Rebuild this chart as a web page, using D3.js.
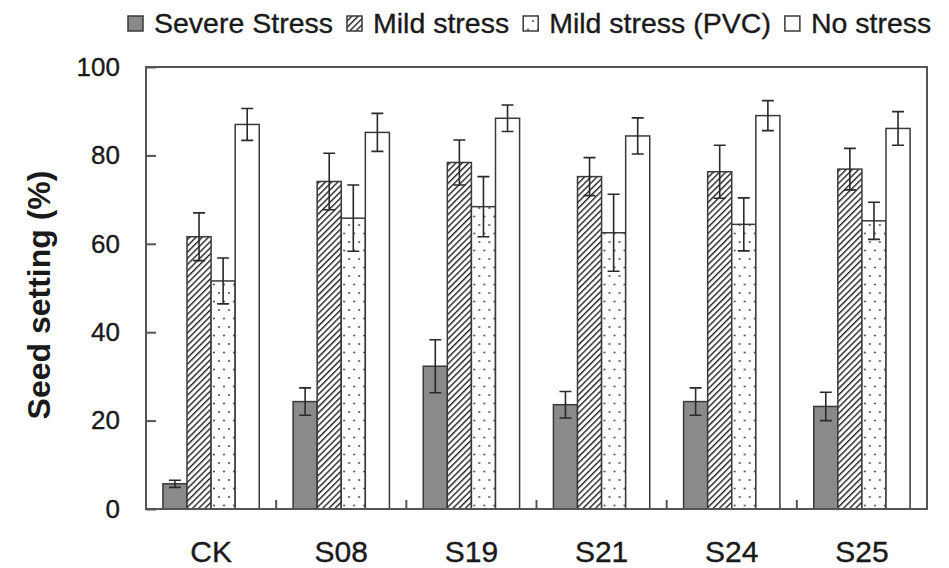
<!DOCTYPE html>
<html>
<head>
<meta charset="utf-8">
<script src="https://cdn.jsdelivr.net/npm/d3@7"></script>
<style>
  html, body { margin: 0; padding: 0; background: #fff; }
  svg { display: block; font-family: "Liberation Sans", Arial, sans-serif; }
</style>
</head>
<body>
<svg id="chart" width="949" height="568"></svg>
<script>
const categories = ["CK", "S08", "S19", "S21", "S24", "S25"];
const seriesNames = ["Severe Stress", "Mild stress", "Mild stress (PVC)", "No stress"];
const severe = [5.7, 24.3, 32.3, 23.6, 24.3, 23.2];
const severeErr = [0.8, 3.1, 6.0, 3.0, 3.1, 3.2];
const mild = [61.6, 74.1, 78.4, 75.2, 76.3, 76.9];
const mildErr = [5.4, 6.4, 5.1, 4.3, 6.0, 4.7];
const pvc = [51.6, 65.8, 68.4, 62.5, 64.4, 65.2];
const pvcErr = [5.2, 7.5, 6.8, 8.7, 6.0, 4.2];
const noStress = [87.0, 85.2, 88.4, 84.4, 89.0, 86.1];
const noStressErr = [3.6, 4.3, 3.0, 4.1, 3.4, 3.8];
const yTicks = [0, 20, 40, 60, 80, 100];
const yTitle = "Seed setting (%)";

const values = [severe, mild, pvc, noStress];
const errors = [severeErr, mildErr, pvcErr, noStressErr];

const svg = d3.select("#chart");
const L = 146, R = 927, T = 67, B = 509;
const textColor = "#1a1a1a";
const lineColor = "#3a3a3a";

const defs = svg.append("defs");
const hatch = defs.append("pattern").attr("id", "hatch")
  .attr("patternUnits", "userSpaceOnUse").attr("width", 4.4).attr("height", 4.4)
  .attr("patternTransform", "rotate(45)");
hatch.append("rect").attr("width", 4.4).attr("height", 4.4).attr("fill", "#fff");
hatch.append("line").attr("x1", 0.7).attr("y1", 0).attr("x2", 0.7).attr("y2", 4.4)
  .attr("stroke", "#222").attr("stroke-width", 1.4);

const dots = defs.append("pattern").attr("id", "dots")
  .attr("patternUnits", "userSpaceOnUse").attr("width", 10).attr("height", 17);
dots.append("rect").attr("width", 10).attr("height", 17).attr("fill", "#fff");
dots.append("circle").attr("cx", 3).attr("cy", 4).attr("r", 1.1).attr("fill", "#555");
dots.append("circle").attr("cx", 8).attr("cy", 12.5).attr("r", 1.1).attr("fill", "#555");

const fills = ["#8a8a8a", "url(#hatch)", "url(#dots)", "#ffffff"];

const x = d3.scaleBand().domain(categories).range([L, R]).padding(0);
const bw = x.bandwidth();
const xs = d3.scaleBand().domain(seriesNames).range([bw * 0.13, bw * 0.87]).padding(0);
const y = d3.scaleLinear().domain([0, 100]).range([B, T]);

// bars
const groups = svg.append("g").selectAll("g").data(categories).join("g")
  .attr("transform", d => `translate(${x(d)},0)`);

seriesNames.forEach((s, si) => {
  groups.append("rect")
    .attr("x", xs(s))
    .attr("width", xs.bandwidth())
    .attr("y", (d, i) => y(values[si][i]))
    .attr("height", (d, i) => B - y(values[si][i]))
    .attr("fill", fills[si])
    .attr("stroke", lineColor)
    .attr("stroke-width", 1.5);
});

// error bars
seriesNames.forEach((s, si) => {
  const cx = xs(s) + xs.bandwidth() / 2;
  groups.each(function (d, i) {
    const g = d3.select(this);
    const v = values[si][i], e = errors[si][i];
    const path = d3.path();
    path.moveTo(cx, y(v + e)); path.lineTo(cx, y(v - e));
    path.moveTo(cx - 6, y(v + e)); path.lineTo(cx + 6, y(v + e));
    path.moveTo(cx - 6, y(v - e)); path.lineTo(cx + 6, y(v - e));
    g.append("path").attr("d", path.toString())
      .attr("fill", "none").attr("stroke", "#2a2a2a").attr("stroke-width", 1.6);
  });
});

// frame
svg.append("rect").attr("x", L).attr("y", T).attr("width", R - L).attr("height", B - T)
  .attr("fill", "none").attr("stroke", "#555").attr("stroke-width", 2);

// y axis
const yAxis = d3.axisLeft(y).tickValues(yTicks).tickSize(-10).tickPadding(26);
const ya = svg.append("g").attr("transform", `translate(${L},0)`).call(yAxis);
ya.select(".domain").remove();
ya.selectAll(".tick line").attr("stroke", "#555").attr("stroke-width", 2);
ya.selectAll(".tick text").attr("font-size", 26).attr("fill", textColor)
  .attr("stroke", textColor).attr("stroke-width", 0.35)
  .attr("font-family", "Liberation Sans, Arial, sans-serif");

// x axis ticks at category boundaries
const xAxis = d3.axisBottom(x).tickSize(0).tickPadding(32);
const xa = svg.append("g").attr("transform", `translate(0,${B})`).call(xAxis);
xa.select(".domain").remove();
xa.selectAll(".tick text").attr("font-size", 30).attr("fill", textColor)
  .attr("stroke", textColor).attr("stroke-width", 0.35)
  .attr("font-family", "Liberation Sans, Arial, sans-serif");
svg.append("g").selectAll("line").data(categories.slice(1)).join("line")
  .attr("x1", d => x(d)).attr("x2", d => x(d))
  .attr("y1", B).attr("y2", B - 9)
  .attr("stroke", "#555").attr("stroke-width", 2);

// y title
svg.append("text")
  .attr("transform", `translate(50,${287 + 8}) rotate(-90)`)
  .attr("text-anchor", "middle")
  .attr("font-size", 32).attr("font-weight", "bold").attr("fill", textColor)
  .text(yTitle);

// legend
const leg = svg.append("g");
let lx = 128;
seriesNames.forEach((s, si) => {
  leg.append("rect").attr("x", lx).attr("y", 16).attr("width", 15).attr("height", 15)
    .attr("fill", fills[si]).attr("stroke", lineColor).attr("stroke-width", 1.5);
  const t = leg.append("text").attr("x", lx + 26).attr("y", 33)
    .attr("font-size", 28.5).attr("fill", textColor)
    .attr("stroke", textColor).attr("stroke-width", 0.35).text(s);
  lx += 26 + t.node().getComputedTextLength() + 14;
});
</script>
</body>
</html>
